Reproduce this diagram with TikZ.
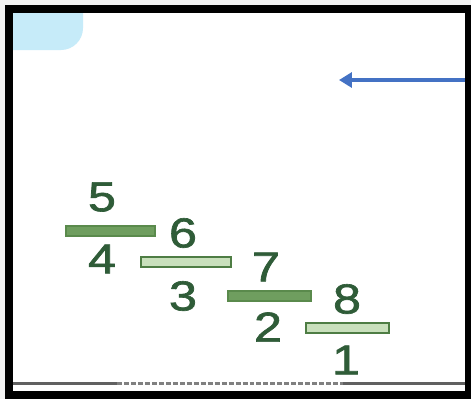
\documentclass[tikz,border=0pt]{standalone}
\usepackage{fontspec}
\usepackage{graphicx}
\setmainfont{Liberation Sans}
\newfontfamily\digitfont[FakeBold=1.5]{Liberation Sans}
\usetikzlibrary{arrows.meta}
\definecolor{digitgreen}{HTML}{2F5C38}
\definecolor{barfill}{HTML}{6F9E5F}
\definecolor{bardraw}{HTML}{5A8A4C}
\definecolor{hollowfill}{HTML}{C9E0BC}
\definecolor{hollowdraw}{HTML}{4E7D44}
\definecolor{arrowblue}{HTML}{4472C4}
\definecolor{blobblue}{HTML}{C6EBF9}
\definecolor{rulegrey}{HTML}{606060}
\newcommand\stretchdigit[1]{\scalebox{1.2}[1]{#1}}
\tikzset{
  digit/.style={font=\digitfont\fontsize{42}{42}\selectfont, text=digitgreen, inner sep=0pt, anchor=center},
  barsolid/.style={fill=barfill, draw=bardraw, line width=1.2pt},
  barhollow/.style={fill=hollowfill, draw=hollowdraw, line width=2.2pt},
  bluearrow/.style={draw=arrowblue, line width=3.5pt, -{Triangle[length=13pt,width=15pt]}},
}
\begin{document}
\begin{tikzpicture}[x=1bp,y=-1bp]
\useasboundingbox (0,0) rectangle (471,399);
% background and frame
\fill[black!5] (0,0) rectangle (471,399);
\fill[black] (5,5) rectangle (471,399);
\fill[white] (13,13) rectangle (465,391);
% light blue blob
\fill[blobblue] (13,13) -- (83,13) -- (83,28) arc[start angle=0,end angle=90,radius=22] -- (13,50) -- cycle;
% bottom rule
\draw[rulegrey, line width=3pt] (13,383) -- (117,383);
\draw[rulegrey!80, line width=3pt, dash pattern=on 5pt off 2pt] (117,383) -- (343,383);
\draw[rulegrey, line width=3pt] (343,383) -- (465,383);
% arrow
\coordinate (arrowfrom) at (465,80);
\coordinate (arrowto) at (339,80);
\draw[bluearrow] (arrowfrom) -- (arrowto);
% bars
\draw[barsolid] (66,226) rectangle (155,236);
\draw[barhollow] (141,257) rectangle (231,267);
\draw[barsolid] (228,291) rectangle (311,301);
\draw[barhollow] (306,323) rectangle (389,333);
% digits
\node[digit] (n5) at (102,197) {\stretchdigit{5}};
\node[digit] (n4) at (102,259) {\stretchdigit{4}};
\node[digit] (n6) at (183,233) {\stretchdigit{6}};
\node[digit] (n3) at (183,296) {\stretchdigit{3}};
\node[digit] (n7) at (266,267) {\stretchdigit{7}};
\node[digit] (n2) at (268,327) {\stretchdigit{2}};
\node[digit] (n8) at (347,299) {\stretchdigit{8}};
\node[digit] (n1) at (346,360) {\stretchdigit{1}};
\end{tikzpicture}
\end{document}
